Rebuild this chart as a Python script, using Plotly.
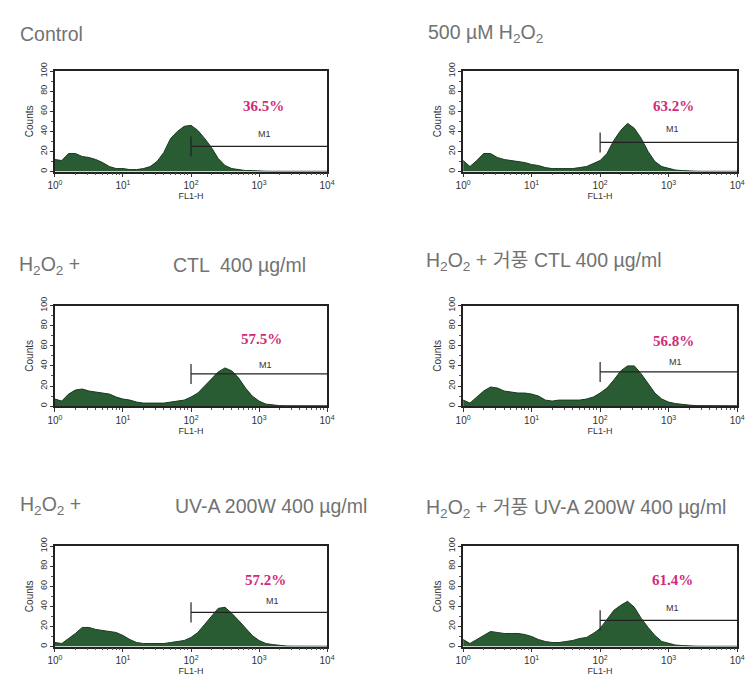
import plotly.graph_objects as go

# FL1-H channel positions (decades) and event counts for each sample
FL1_DECADE = [0.0, 0.1, 0.2, 0.3, 0.4, 0.5, 0.6, 0.7, 0.8, 0.9,
              1.0, 1.1, 1.2, 1.3, 1.4, 1.5, 1.6, 1.7, 1.8, 1.9,
              2.0, 2.1, 2.2, 2.3, 2.4, 2.5, 2.6, 2.7, 2.8, 2.9,
              3.0, 3.1, 3.2, 3.3, 3.4, 3.5, 3.6, 3.7, 3.8, 3.9, 4.0]

counts_control = [12, 11, 18, 18, 15, 14, 12, 9, 5, 3,
                  3, 2, 2, 3, 5, 10, 19, 33, 40, 45,
                  46, 41, 33, 24, 13, 6, 3, 2, 1, 1,
                  0.5, 0.4, 0.3, 0.3, 0.3, 0.3, 0.3, 0.3, 0.3, 0.3, 0.3]
counts_h2o2 = [11, 5, 11, 18, 18, 14, 12, 11, 10, 9,
               7, 6, 4, 3, 3, 3, 3, 4, 5, 8,
               11, 18, 31, 41, 48, 43, 33, 20, 10, 5,
               3, 1.5, 1, 0.5, 0.4, 0.3, 0.3, 0.3, 0.3, 0.3, 0.3]
counts_ctl_a = [7, 5, 12, 16, 17, 15, 14, 13, 12, 9,
                7, 6, 4, 3, 3, 3, 3, 4, 5, 6,
                9, 13, 20, 27, 34, 38, 35, 28, 18, 10,
                5, 2, 1, 0.5, 0.4, 0.3, 0.3, 0.3, 0.3, 0.3, 0.3]
counts_ctl_b = [6, 3, 9, 15, 19, 18, 15, 14, 13, 13,
                12, 10, 6, 5, 6, 6, 6, 6, 7, 9,
                13, 18, 26, 35, 40, 40, 32, 22, 13, 7,
                4, 2.5, 1.5, 1, 0.5, 0.4, 0.3, 0.3, 0.3, 0.3, 0.3]
counts_uva_a = [4, 3, 8, 13, 19, 19, 17, 16, 15, 14,
                11, 7, 4, 3, 3, 3, 3, 4, 5, 6,
                9, 14, 22, 30, 38, 39, 33, 26, 18, 11,
                6, 3, 2, 1, 0.5, 0.4, 0.3, 0.3, 0.3, 0.3, 0.3]
counts_uva_b = [7, 3, 7, 11, 15, 14, 13, 13, 13, 12,
                10, 7, 5, 4, 4, 5, 6, 8, 9, 13,
                18, 27, 36, 41, 45, 39, 28, 19, 11, 5,
                3, 1.5, 1, 0.5, 0.4, 0.3, 0.3, 0.3, 0.3, 0.3, 0.3]

HISTOGRAMS = [counts_control, counts_h2o2, counts_ctl_a,
              counts_ctl_b, counts_uva_a, counts_uva_b]

# M1 marker: start channel, end channel, height of the bar, percent gated
M1_START = [100, 100, 100, 100, 100, 100]
M1_END = [10000, 10000, 10000, 10000, 10000, 10000]
M1_LEVEL = [25, 29, 32, 34, 34, 26]
M1_PERCENT = ["36.5%", "63.2%", "57.5%", "56.8%", "57.2%", "61.4%"]

X_TICK_VALUES = [1, 10, 100, 1000, 10000]
X_TICK_TEXT = ["10<sup>0</sup>", "10<sup>1</sup>", "10<sup>2</sup>",
               "10<sup>3</sup>", "10<sup>4</sup>"]
Y_TICK_VALUES = [0, 20, 40, 60, 80, 100]

W, H = 752, 684
FILL = "#2a5c33"
EDGE = "#1b3a20"
PINK = "#cf2b7b"
TITLE_FONT = dict(family="Liberation Sans, Noto Sans CJK KR", size=19.5, color="#727272")
INK = "#333333"

# panel boxes in pixels: (left, right, top, bottom)
BOXES = [(48, 326, 63, 165), (465, 745, 63, 165),
         (48, 326, 301, 403), (465, 745, 301, 403),
         (48, 326, 545, 647), (465, 745, 545, 647)]

# label positions inside each panel (decade, count)
PCT_POS = [(3.06, 65), (3.07, 65), (3.03, 67), (3.07, 65), (3.1, 66), (3.05, 66)]
M1_POS = [(3.08, 37), (3.05, 42), (3.1, 41), (3.1, 44), (3.2, 45), (3.05, 38)]

MINOR_X = [2, 3, 4, 5, 6, 7, 8, 9, 20, 30, 40, 50, 60, 70, 80, 90,
           200, 300, 400, 500, 600, 700, 800, 900,
           2000, 3000, 4000, 5000, 6000, 7000, 8000, 9000]

fig = go.Figure()
fl1 = [10 ** d for d in FL1_DECADE]
annotations = []
layout = {}

for i, counts in enumerate(HISTOGRAMS):
    n = "" if i == 0 else str(i + 1)
    xa, ya = "x" + n, "y" + n
    fig.add_trace(go.Scatter(
        x=fl1, y=counts, xaxis=xa, yaxis=ya, mode="lines",
        line=dict(color=EDGE, width=1), fill="tozeroy", fillcolor=FILL,
        hoverinfo="skip"))
    # gate bar and its start tick
    fig.add_trace(go.Scatter(
        x=[M1_START[i], M1_END[i]], y=[M1_LEVEL[i], M1_LEVEL[i]],
        xaxis=xa, yaxis=ya, mode="lines",
        line=dict(color="#222222", width=1.2), hoverinfo="skip"))
    fig.add_trace(go.Scatter(
        x=[M1_START[i], M1_START[i]], y=[M1_LEVEL[i] - 10, M1_LEVEL[i] + 10],
        xaxis=xa, yaxis=ya, mode="lines",
        line=dict(color="#222222", width=1.2), hoverinfo="skip"))

    l, r, t, b = BOXES[i]
    layout["xaxis" + n] = dict(
        type="log", range=[0, 4], domain=[l / W, r / W], anchor=ya,
        showline=True, linecolor="#222222", linewidth=1.5, mirror=True,
        ticks="outside", ticklen=4, tickwidth=1.2, tickcolor=INK,
        tickvals=X_TICK_VALUES, ticktext=X_TICK_TEXT,
        tickfont=dict(family="Liberation Sans", size=10, color=INK),
        minor=dict(ticks="outside", ticklen=2, tickcolor="#555555", tickvals=MINOR_X),
        showgrid=False, zeroline=False, fixedrange=True,
        title=dict(text="FL1-H", font=dict(family="Liberation Sans", size=9, color=INK),
                   standoff=2))
    layout["yaxis" + n] = dict(
        range=[0, 100], domain=[1 - b / H, 1 - t / H], anchor=xa,
        showline=True, linecolor="#222222", linewidth=1.5, mirror=True,
        ticks="outside", ticklen=3, tickwidth=1.2, tickcolor=INK,
        tickvals=Y_TICK_VALUES, tickangle=-90,
        tickfont=dict(family="Liberation Sans", size=9, color=INK),
        minor=dict(ticks="outside", ticklen=2, dtick=10, tickcolor="#555555"),
        showgrid=False, zeroline=False, fixedrange=True,
        title=dict(text="Counts", font=dict(family="Liberation Sans", size=10, color=INK),
                   standoff=3))

    px, py = PCT_POS[i]
    annotations.append(dict(
        x=px, y=py, xref=xa, yref=ya, text="<b>" + M1_PERCENT[i] + "</b>",
        showarrow=False, font=dict(family="Liberation Serif", size=15, color=PINK)))
    mx, my = M1_POS[i]
    annotations.append(dict(
        x=mx, y=my, xref=xa, yref=ya, text="M1", showarrow=False,
        font=dict(family="Liberation Sans", size=9, color=INK)))

# sample titles
TITLES = [
    ("Control", 10, 25),
    ("500 µM H<sub>2</sub>O<sub>2</sub>", 427, 25),
    ("H<sub>2</sub>O<sub>2</sub> +", 9, 260),
    ("CTL  400 µg/ml", 167, 260),
    ("H<sub>2</sub>O<sub>2</sub> + 거풍 CTL 400 µg/ml", 425, 256),
    ("H<sub>2</sub>O<sub>2</sub> +", 10, 504),
    ("UV-A 200W 400 µg/ml", 169, 504),
    ("H<sub>2</sub>O<sub>2</sub> + 거풍 UV-A 200W 400 µg/ml", 425, 507),
]
for text, x, y in TITLES:
    annotations.append(dict(
        x=x / W, y=1 - y / H, xref="paper", yref="paper", text=text,
        xanchor="left", yanchor="middle", showarrow=False, font=TITLE_FONT))

fig.update_layout(
    width=W, height=H, margin=dict(l=0, r=0, t=0, b=0),
    paper_bgcolor="white", plot_bgcolor="white", showlegend=False,
    annotations=annotations, **layout)

fig.write_html("out.html")
